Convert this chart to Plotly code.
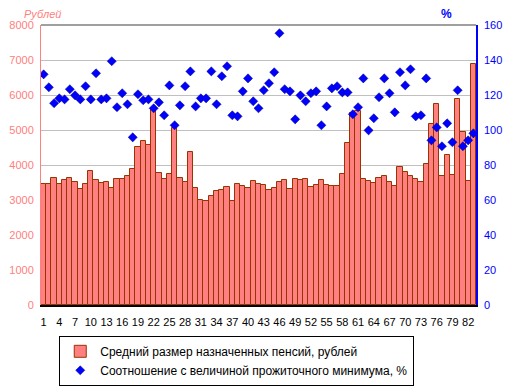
import plotly.graph_objects as go

regions = list(range(1, 84))
pension_rub = [3450, 3450, 3620, 3450, 3560, 3620, 3505, 3305, 3450, 3820,
               3560, 3475, 3505, 3335, 3590, 3590, 3675, 3875, 4505, 4675,
               4560, 5570, 3760, 3590, 3735, 5050, 3620, 3505, 4360, 3335,
               2990, 2960, 3105, 3250, 3275, 3360, 2960, 3450, 3390, 3335,
               3535, 3450, 3420, 3275, 3335, 3505, 3560, 3305, 3590, 3560,
               3590, 3360, 3420, 3560, 3420, 3390, 3390, 3745, 4620, 5475,
               5545, 3590, 3535, 3475, 3620, 3675, 3505, 3390, 3935, 3790,
               3675, 3590, 3505, 4020, 5160, 5735, 3675, 4275, 3705, 5875,
               4935, 3535, 6875]
ratio_pct = [131.8, 124.4, 115.3, 118.1, 117.5, 123.3, 119.8, 117.5, 125.0, 117.5,
             132.4, 117.5, 118.1, 139.3, 113.0, 121.0, 114.7, 95.8, 120.4, 117.0,
             117.5, 112.4, 115.8, 108.4, 125.5, 102.7, 114.1, 125.0, 133.5, 113.5,
             118.1, 118.1, 133.5, 114.7, 130.7, 136.4, 108.4, 107.8, 122.1, 129.5,
             116.4, 112.4, 122.7, 126.7, 133.0, 155.3, 123.3, 122.1, 106.1, 119.8,
             116.4, 121.0, 122.1, 102.7, 113.5, 123.8, 125.0, 121.5, 121.5, 109.0,
             113.0, 129.5, 99.8, 106.7, 118.7, 129.5, 121.0, 110.1, 133.0, 125.5,
             134.7, 107.8, 108.4, 129.5, 94.1, 101.5, 90.7, 103.8, 93.0, 122.7,
             90.7, 94.1, 98.1]
x_ticks = list(range(1, 84, 3))

FONT = "Liberation Sans, Arial, sans-serif"

fig = go.Figure()
fig.add_trace(go.Bar(
    x=regions, y=pension_rub,
    name="Средний размер назначенных пенсий, рублей",
    marker=dict(color="#ff8080", line=dict(color="#993300", width=1)),
    yaxis="y",
))
fig.add_trace(go.Scatter(
    x=regions, y=ratio_pct, mode="markers",
    name="Соотношение с величиной прожиточного минимума, %",
    marker=dict(symbol="diamond", size=7, color="#0000ff",
                line=dict(color="#000080", width=0.5)),
    yaxis="y2",
))

fig.update_layout(
    width=511, height=388,
    margin=dict(l=41, r=35, t=25, b=83, autoexpand=False),
    paper_bgcolor="white", plot_bgcolor="white",
    font=dict(family=FONT, size=11, color="black"),
    bargap=0.0,
    showlegend=True,
    legend=dict(
        x=0.45, xanchor="center", y=-0.11, yanchor="top",
        bordercolor="black", borderwidth=1, bgcolor="white",
        font=dict(family=FONT, size=12, color="black"),
        tracegroupgap=2, itemwidth=30,
    ),
    xaxis=dict(
        range=[0.5, 83.5], tickmode="array", tickvals=x_ticks,
        ticktext=[str(v) for v in x_ticks],
        showgrid=False, zeroline=False,
        showline=True, linecolor="black", linewidth=1.5,
        ticks="outside", ticklen=6, tickcolor="rgba(0,0,0,0)",
        tickfont=dict(family=FONT, size=11, color="black"),
    ),
    yaxis=dict(
        range=[0, 8000], dtick=1000,
        showgrid=True, gridcolor="#c0c0c0", gridwidth=1,
        zeroline=False, showline=True, linecolor="#ff8080", linewidth=1,
        ticks="outside", ticklen=4, tickcolor="rgba(0,0,0,0)",
        tickfont=dict(family=FONT, size=11, color="#ff8080"),
    ),
    yaxis2=dict(
        range=[0, 160], dtick=20, overlaying="y", side="right",
        showgrid=False, zeroline=False,
        showline=True, linecolor="#0000ff", linewidth=1.5,
        ticks="outside", ticklen=4, tickcolor="rgba(0,0,0,0)",
        tickfont=dict(family=FONT, size=11, color="#0000ff"),
    ),
    shapes=[dict(type="line", xref="paper", yref="paper", x0=0, x1=1, y0=1, y1=1,
                 line=dict(color="#808080", width=1.5))],
    annotations=[
        dict(text="<i>Рублей</i>", xref="paper", yref="paper", x=0.0035, y=1.039,
             xanchor="center", yanchor="middle", showarrow=False,
             font=dict(family=FONT, size=11, color="#ff8080")),
        dict(text="<b>%</b>", xref="paper", yref="paper", x=0.933, y=1.039,
             xanchor="center", yanchor="middle", showarrow=False,
             font=dict(family=FONT, size=12, color="#0000ff")),
    ],
)

fig.write_html("out.html", config={"displayModeBar": False},
               post_script="document.body.style.margin='0px';")
